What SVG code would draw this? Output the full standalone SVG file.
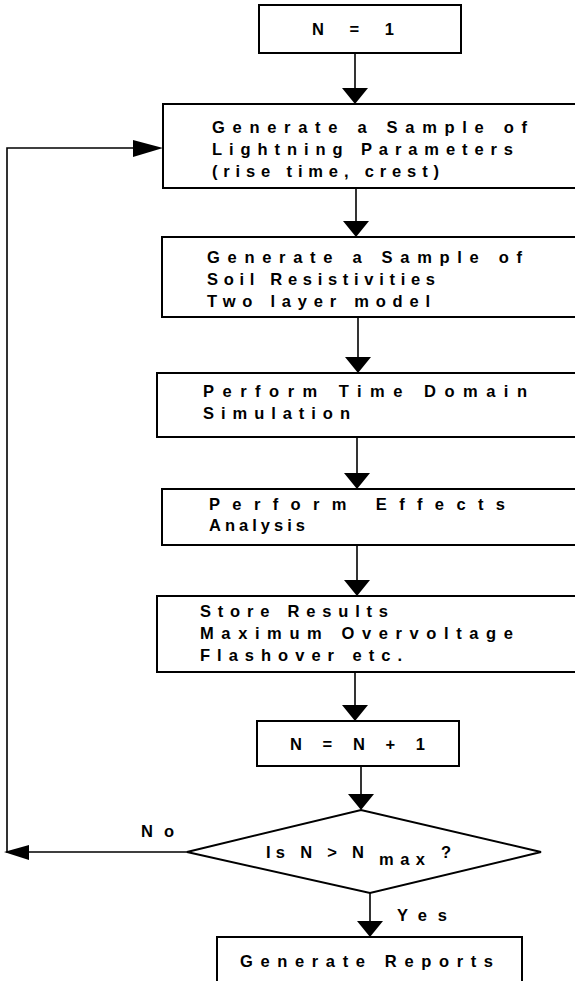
<svg xmlns="http://www.w3.org/2000/svg" width="575" height="981" viewBox="0 0 575 981">
<style>
.box{fill:#fff;stroke:#000;stroke-width:2}
.ln{fill:none;stroke:#000;stroke-width:1.6}
.ah{fill:#000;stroke:none}
text{font-family:"Liberation Sans",Arial,sans-serif;font-size:16.5px;font-weight:bold;fill:#000}
</style>
<rect width="575" height="981" fill="#fff"/>
<g id="connectors">
<line class="ln" x1="355" y1="53" x2="355" y2="92"/>
<polygon class="ah" points="342,88 368,88 355,104"/>
<line class="ln" x1="356" y1="188" x2="356" y2="225"/>
<polygon class="ah" points="343,221 369,221 356,237"/>
<line class="ln" x1="358" y1="317" x2="358" y2="360"/>
<polygon class="ah" points="345,357 371,357 358,373"/>
<line class="ln" x1="357" y1="437" x2="357" y2="477"/>
<polygon class="ah" points="344,473 370,473 357,489"/>
<line class="ln" x1="357" y1="545" x2="357" y2="583"/>
<polygon class="ah" points="344,580 370,580 357,596"/>
<line class="ln" x1="355" y1="672" x2="355" y2="708"/>
<polygon class="ah" points="342,705 368,705 355,721"/>
<line class="ln" x1="361" y1="766" x2="361" y2="797"/>
<polygon class="ah" points="348,794 374,794 361,810"/>
<line class="ln" x1="370" y1="893" x2="370" y2="925"/>
<polygon class="ah" points="357,921 383,921 370,937"/>
<polyline class="ln" points="187,852 7,852 7,148 140,148"/>
<polygon class="ah" points="4,852 29,845 29,860"/>
<polygon class="ah" points="163,148 133,140 133,157"/>
</g>
<g id="n1">
<rect class="box" x="259" y="5" width="202" height="48"/>
<text x="312" y="35" textLength="82" lengthAdjust="spacing">N = 1</text>
</g>
<g id="gen-lightning">
<rect class="box" x="163" y="104" width="420" height="84"/>
<text x="212" y="133" textLength="315" lengthAdjust="spacing">Generate a Sample of</text>
<text x="212" y="155" textLength="301" lengthAdjust="spacing">Lightning Parameters</text>
<text x="212" y="177" textLength="227" lengthAdjust="spacing">(rise time, crest)</text>
</g>
<g id="gen-soil">
<rect class="box" x="162" y="237" width="420" height="80"/>
<text x="207" y="263" textLength="315" lengthAdjust="spacing">Generate a Sample of</text>
<text x="207" y="285" textLength="228" lengthAdjust="spacing">Soil Resistivities</text>
<text x="207" y="307" textLength="223" lengthAdjust="spacing">Two layer model</text>
</g>
<g id="time-domain">
<rect class="box" x="157" y="373" width="425" height="64"/>
<text x="203" y="397" textLength="324" lengthAdjust="spacing">Perform Time Domain</text>
<text x="203" y="419" textLength="147" lengthAdjust="spacing">Simulation</text>
</g>
<g id="effects">
<rect class="box" x="162" y="489" width="420" height="56"/>
<text x="209" y="510" textLength="296" lengthAdjust="spacing">Perform Effects</text>
<text x="209" y="531" textLength="96" lengthAdjust="spacing">Analysis</text>
</g>
<g id="store">
<rect class="box" x="157" y="596" width="425" height="76"/>
<text x="200" y="617" textLength="188" lengthAdjust="spacing">Store Results</text>
<text x="200" y="639" textLength="313" lengthAdjust="spacing">Maximum Overvoltage</text>
<text x="200" y="661" textLength="202" lengthAdjust="spacing">Flashover etc.</text>
</g>
<g id="increment">
<rect class="box" x="257" y="721" width="202" height="45"/>
<text x="290" y="750" textLength="135" lengthAdjust="spacing">N = N + 1</text>
</g>
<g id="decision">
<polygon class="box" points="187,852 361,810 541,852 370,893"/>
<text x="266" y="858" textLength="98" lengthAdjust="spacing">Is N &gt; N</text>
<text x="379" y="865" font-size="12" textLength="46" lengthAdjust="spacing">max</text>
<text x="441" y="858">?</text>
<text x="141" y="837" textLength="33" lengthAdjust="spacing">No</text>
<text x="397" y="921" textLength="50" lengthAdjust="spacing">Yes</text>
</g>
<g id="reports">
<rect class="box" x="217" y="937" width="305" height="50"/>
<text x="240" y="967" textLength="253" lengthAdjust="spacing">Generate Reports</text>
</g>
</svg>
